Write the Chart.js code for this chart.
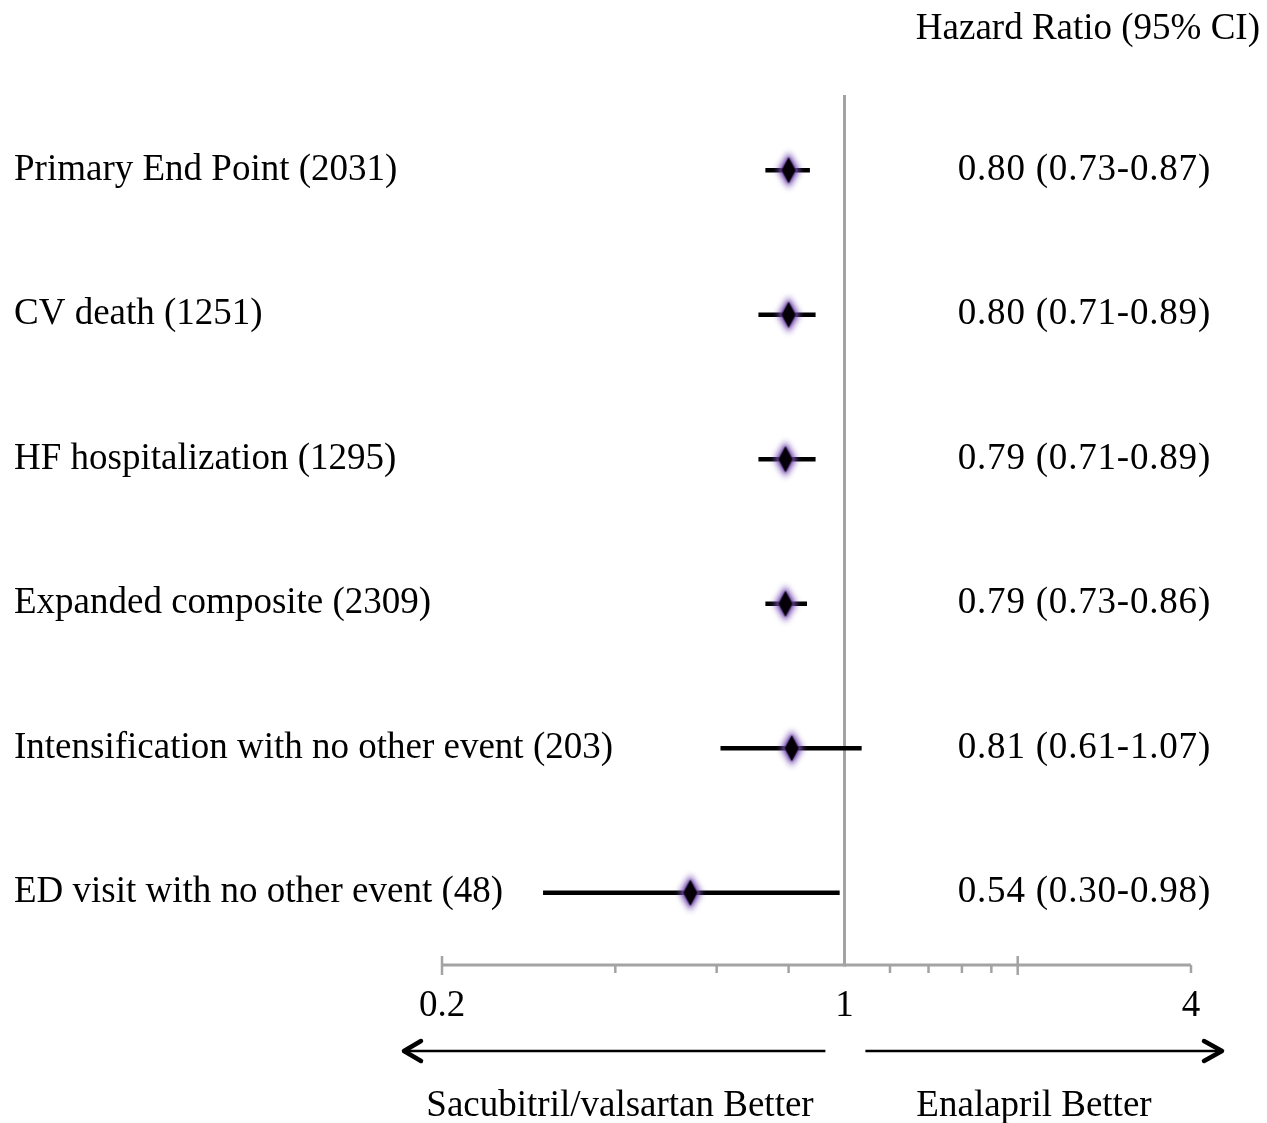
<!DOCTYPE html>
<html>
<head>
<meta charset="utf-8">
<script src="https://cdn.jsdelivr.net/npm/chart.js@4.4.0/dist/chart.umd.min.js"></script>
<style>
  html, body { margin: 0; padding: 0; background: #ffffff; }
  #wrap { width: 1267px; height: 1123px; position: relative; }
</style>
</head>
<body>
<div id="wrap"><canvas id="forest"></canvas></div>
<script>
// Outcomes (number of events) and hazard ratios with 95% confidence limits
const outcomes = [
  'Primary End Point (2031)',
  'CV death (1251)',
  'HF hospitalization (1295)',
  'Expanded composite (2309)',
  'Intensification with no other event (203)',
  'ED visit with no other event (48)'
];
const hazardRatio = [0.80, 0.80, 0.79, 0.79, 0.81, 0.54];
const ciLower     = [0.73, 0.71, 0.71, 0.73, 0.61, 0.30];
const ciUpper     = [0.87, 0.89, 0.89, 0.86, 1.07, 0.98];

// Log axis tick positions and the ones that carry a label
const axisTicks     = [0.2, 0.4, 0.6, 0.8, 1, 1.2, 1.4, 1.6, 1.8, 2, 4];
const labelledTicks = [0.2, 1, 4];
const majorTicks    = [0.2, 2];

const titleText      = 'Hazard Ratio (95% CI)';
const leftArrowText  = 'Sacubitril/valsartan Better';
const rightArrowText = 'Enalapril Better';

const FONT_FAMILY = "'Liberation Serif', 'Times New Roman', serif";
const FONT_SIZE = 37;
const AXIS_GREY = '#a3a3a3';

// Diamond marker with a soft violet halo
function makeMarker() {
  const c = document.createElement('canvas');
  c.width = 44; c.height = 56;
  const g = c.getContext('2d');
  const cx = 22, cy = 28;
  const diamond = (hw, hh) => {
    g.beginPath();
    g.moveTo(cx, cy - hh);
    g.lineTo(cx + hw, cy);
    g.lineTo(cx, cy + hh);
    g.lineTo(cx - hw, cy);
    g.closePath();
  };
  // halo
  g.filter = 'blur(3px)';
  g.fillStyle = 'rgba(125, 85, 185, 1)';
  diamond(11, 18);
  g.fill();
  g.filter = 'none';
  // core
  g.shadowColor = 'rgba(70, 30, 120, 0.9)';
  g.shadowBlur = 3;
  g.fillStyle = '#050008';
  diamond(7, 13);
  g.fill();
  return c;
}

const hrLabels = hazardRatio.map((v, i) =>
  `${v.toFixed(2)} (${ciLower[i].toFixed(2)}-${ciUpper[i].toFixed(2)})`);

// Reference line at HR = 1, axis line, tick marks and annotations
const forestDecor = {
  id: 'forestDecor',
  beforeDatasetsDraw(chart) {
    const { ctx, chartArea, scales } = chart;
    const x = scales.x;
    const yBase = chartArea.bottom;
    ctx.save();
    ctx.strokeStyle = AXIS_GREY;
    ctx.lineCap = 'butt';
    // vertical line at 1
    ctx.lineWidth = 3;
    const x1 = Math.round(x.getPixelForValue(1)) + 0.5;
    ctx.beginPath();
    ctx.moveTo(x1, chartArea.top - 3);
    ctx.lineTo(x1, yBase + 1.5);
    ctx.stroke();
    // horizontal axis line
    ctx.beginPath();
    ctx.moveTo(chartArea.left, yBase);
    ctx.lineTo(chartArea.right, yBase);
    ctx.stroke();
    // tick marks
    ctx.lineWidth = 2.5;
    axisTicks.forEach(v => {
      if (v === 1) return;
      const px = x.getPixelForValue(v);
      let top = yBase, bottom = yBase + 8;
      if (majorTicks.includes(v)) { top = yBase - 9; bottom = yBase + 10; }
      ctx.beginPath();
      ctx.moveTo(px, top);
      ctx.lineTo(px, bottom);
      ctx.stroke();
    });
    ctx.restore();
  },
  afterDraw(chart) {
    const { ctx, chartArea, scales } = chart;
    const y = scales.y;
    const x = scales.x;
    ctx.save();
    ctx.fillStyle = '#000';
    ctx.font = `${FONT_SIZE}px ${FONT_FAMILY}`;
    ctx.textBaseline = 'middle';

    // outcome names, left aligned
    ctx.textAlign = 'left';
    outcomes.forEach((t, i) => {
      ctx.fillText(t, 14, y.getPixelForValue(i));
    });

    // title
    ctx.textAlign = 'right';
    ctx.fillText(titleText, chart.width - 7, 29);

    // hazard ratio text per row
    ctx.letterSpacing = '0.8px';
    hrLabels.forEach((t, i) => {
      ctx.fillText(t, chartArea.right + 20, y.getPixelForValue(i));
    });
    ctx.letterSpacing = '0px';

    // direction arrows
    const x1 = x.getPixelForValue(1);
    const ay = 1051;
    ctx.strokeStyle = '#000';
    ctx.lineWidth = 2.5;
    ctx.beginPath();
    ctx.moveTo(x1 - 19, ay); ctx.lineTo(chartArea.left - 37, ay);
    ctx.moveTo(x1 + 21, ay); ctx.lineTo(chartArea.right + 30, ay);
    ctx.stroke();
    ctx.lineWidth = 4.5;
    ctx.lineCap = 'round';
    ctx.lineJoin = 'round';
    const lt = chartArea.left - 38, rt = chartArea.right + 31;
    ctx.beginPath();
    ctx.moveTo(lt + 17, ay - 10); ctx.lineTo(lt, ay); ctx.lineTo(lt + 17, ay + 10);
    ctx.moveTo(rt - 18, ay - 10); ctx.lineTo(rt, ay); ctx.lineTo(rt - 18, ay + 10);
    ctx.stroke();

    // direction labels
    ctx.textAlign = 'center';
    ctx.fillText(leftArrowText, 620, 1106);
    ctx.fillText(rightArrowText, 1034, 1106);
    ctx.restore();
  }
};

const marker = makeMarker();

new Chart(document.getElementById('forest'), {
  type: 'bar',
  data: {
    labels: outcomes,
    datasets: [
      {
        type: 'bar',
        label: '95% CI',
        data: outcomes.map((o, i) => [ciLower[i], ciUpper[i]]),
        backgroundColor: '#000000',
        borderWidth: 0,
        barThickness: 4,
        order: 2
      },
      {
        type: 'scatter',
        label: 'Hazard ratio',
        data: outcomes.map((o, i) => ({ x: hazardRatio[i], y: o })),
        pointStyle: marker,
        pointRadius: 12,
        order: 1
      }
    ]
  },
  options: {
    indexAxis: 'y',
    responsive: true,
    maintainAspectRatio: false,
    animation: false,
    layout: { padding: { left: 14, right: 76, top: 98, bottom: 0 } },
    plugins: { legend: { display: false }, tooltip: { enabled: false }, title: { display: false } },
    scales: {
      x: {
        type: 'logarithmic',
        min: 0.2,
        max: 4,
        afterBuildTicks: s => { s.ticks = axisTicks.map(v => ({ value: v })); },
        afterFit: s => { s.height = 158; },
        grid: { display: false, drawTicks: false },
        border: { display: false },
        ticks: {
          autoSkip: false,
          maxRotation: 0,
          padding: 19,
          color: '#000',
          font: { family: FONT_FAMILY, size: FONT_SIZE },
          callback: v => labelledTicks.includes(v) ? String(v) : ''
        }
      },
      y: {
        type: 'category',
        offset: true,
        afterFit: s => { s.width = 428; },
        grid: { display: false, drawTicks: false },
        border: { display: false },
        ticks: { display: false }
      }
    }
  },
  plugins: [forestDecor]
});
</script>
</body>
</html>
